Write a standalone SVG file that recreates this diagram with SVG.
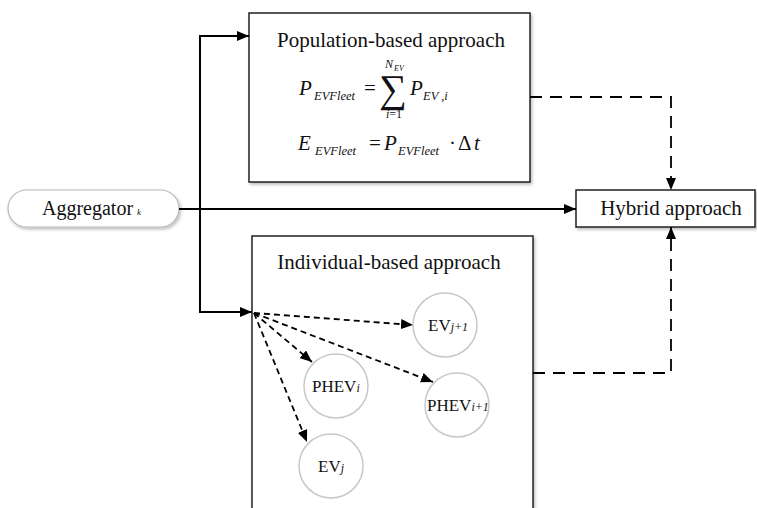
<svg xmlns="http://www.w3.org/2000/svg" width="757" height="508" viewBox="0 0 757 508">
  <style>
    text { font-family: "Liberation Serif", "DejaVu Serif", serif; fill: #111; }
    .lbl { font-size: 21px; }
    .vlbl { font-size: 17px; }
    .vsub { font-size: 12px; font-style: italic; }
    .eq { font-size: 21px; }
    .it { font-style: italic; }
    .sub { font-size: 12.5px; font-style: italic; }
    .box { fill: #fff; stroke: #222; stroke-width: 1.5; }
    .pill { fill: #fff; stroke: #b8b8b8; stroke-width: 1.2; }
    .node { fill: #fff; stroke: #c8c8c8; stroke-width: 1.5; }
    .solid { fill: none; stroke: #000; stroke-width: 2; }
    .dash-long { fill: none; stroke: #000; stroke-width: 1.8; stroke-dasharray: 12 8; }
    .dash-short { fill: none; stroke: #000; stroke-width: 1.8; stroke-dasharray: 6 4; }
  </style>
  <defs>
    <marker id="arrow" viewBox="0 0 12 10" refX="12" refY="5" markerWidth="12" markerHeight="10" markerUnits="userSpaceOnUse" orient="auto">
      <path d="M0,0 L12,5 L0,10 Z" fill="#000"/>
    </marker>
    <filter id="shadow" x="-10%" y="-10%" width="130%" height="130%">
      <feDropShadow dx="1.5" dy="2" stdDeviation="1.5" flood-color="#000" flood-opacity="0.25"/>
    </filter>
  </defs>

  <rect width="757" height="508" fill="#fff"/>

  <!-- Population-based approach -->
  <g id="population">
    <rect class="box" x="249" y="13" width="281" height="169" filter="url(#shadow)"/>
    <text class="lbl" x="391" y="47" text-anchor="middle">Population-based approach</text>
    <!-- P_EVFleet = sum_{i=1}^{N_EV} P_EV,i -->
    <text class="eq"><tspan class="it" x="299" y="95">P</tspan><tspan class="sub" x="314" y="100">EVFleet</tspan><tspan x="364" y="95">=</tspan><tspan x="379" y="102" font-size="39">∑</tspan><tspan class="it" x="410" y="95">P</tspan><tspan class="sub" x="423" y="100">EV ,i</tspan></text>
    <text class="sub" style="font-size:12px"><tspan x="385" y="68">N</tspan><tspan x="394" y="71" font-size="8">EV</tspan></text>
    <text class="sub" x="386" y="118" style="font-size:12px">i<tspan font-style="normal">=1</tspan></text>
    <!-- E_EVFleet = P_EVFleet · Δt -->
    <text class="eq"><tspan class="it" x="298" y="150">E</tspan><tspan class="sub" x="315" y="155">EVFleet</tspan><tspan x="369" y="150">=</tspan><tspan class="it" x="384" y="150">P</tspan><tspan class="sub" x="398" y="155">EVFleet</tspan><tspan x="449" y="150">·</tspan><tspan x="458" y="150">Δ</tspan><tspan class="it" x="474" y="150">t</tspan></text>
  </g>

  <!-- Individual-based approach -->
  <g id="individual">
    <rect class="box" x="252" y="236" width="281" height="290" filter="url(#shadow)"/>
    <text class="lbl" x="389" y="269" text-anchor="middle">Individual-based approach</text>
  </g>

  <!-- Aggregator -->
  <g id="aggregator">
    <rect class="pill" x="8" y="190" width="171" height="37" rx="18.5" filter="url(#shadow)"/>
    <text x="42" y="215" style="font-size:20px">Aggregator<tspan font-size="9" font-style="italic" dx="4">k</tspan></text>
  </g>

  <!-- Hybrid approach -->
  <g id="hybrid">
    <rect class="box" x="576" y="190" width="179" height="37" filter="url(#shadow)"/>
    <text class="lbl" x="671" y="215" text-anchor="middle">Hybrid approach</text>
  </g>

  <!-- vehicle nodes -->
  <g id="ev-j1">
    <circle class="node" cx="445" cy="325" r="32"/>
    <text class="vlbl" x="428" y="331">EV<tspan class="vsub">j+1</tspan></text>
  </g>
  <g id="phev-i">
    <circle class="node" cx="336" cy="386" r="32"/>
    <text class="vlbl" x="312" y="392">PHEV<tspan class="vsub">i</tspan></text>
  </g>
  <g id="phev-i1">
    <circle class="node" cx="457" cy="405" r="32"/>
    <text class="vlbl" x="427" y="411">PHEV<tspan class="vsub">i+1</tspan></text>
  </g>
  <g id="ev-j">
    <circle class="node" cx="331" cy="466" r="32"/>
    <text class="vlbl" x="318" y="472">EV<tspan class="vsub">j</tspan></text>
  </g>

  <!-- connectors -->
  <g id="connectors">
    <path class="solid" d="M179,209 H576" marker-end="url(#arrow)"/>
    <path class="solid" d="M200,312 V36 H249" marker-end="url(#arrow)"/>
    <path class="solid" d="M200,209 V312 H252" marker-end="url(#arrow)"/>
    <path class="dash-long" d="M530,97 H671 V190" marker-end="url(#arrow)"/>
    <path class="dash-long" d="M533,373 H671 V227" marker-end="url(#arrow)"/>
    <path class="dash-short" d="M254,313 L413,325" marker-end="url(#arrow)"/>
    <path class="dash-short" d="M254,313 L312,362" marker-end="url(#arrow)"/>
    <path class="dash-short" d="M254,313 L433,382" marker-end="url(#arrow)"/>
    <path class="dash-short" d="M254,313 L307,442" marker-end="url(#arrow)"/>
  </g>
</svg>
